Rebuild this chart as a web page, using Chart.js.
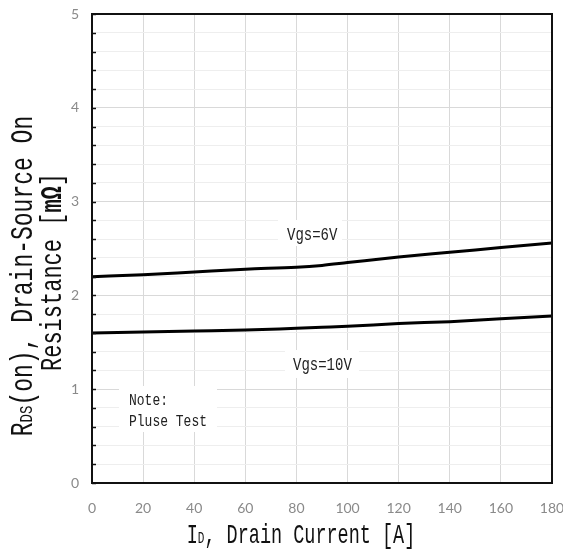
<!DOCTYPE html>
<html>
<head>
<meta charset="utf-8">
<script src="https://cdn.jsdelivr.net/npm/chart.js@4"></script>
<style>
  html, body { margin: 0; padding: 0; background: #fff; }
  #wrap { width: 563px; height: 552px; }
</style>
</head>
<body>
<div id="wrap"><canvas id="rdsChart"></canvas></div>
<script>
  // values
  const currentA = [0, 20, 40, 60, 80, 90, 100, 120, 140, 160, 180];
  const rdsVgs6 = [2.20, 2.22, 2.25, 2.28, 2.30, 2.32, 2.35, 2.41, 2.46, 2.51, 2.56];
  const rdsVgs10 = [1.60, 1.61, 1.62, 1.63, 1.65, 1.66, 1.67, 1.70, 1.72, 1.75, 1.78];
  const seriesNames = ["Vgs=6V", "Vgs=10V"];
  const xTicks = [0, 20, 40, 60, 80, 100, 120, 140, 160, 180];
  const yTicks = [0, 1, 2, 3, 4, 5];

  const MONO = "'Liberation Mono', monospace";

  // draw a row of text pieces (for the small subscript letters)
  function drawRuns(ctx, runs, cx, cy, stretch) {
    let total = 0;
    runs.forEach(r => {
      ctx.font = (r.bold ? "bold " : "") + r.size + "px " + MONO;
      r.w = ctx.measureText(r.text).width;
      total += r.w;
    });
    ctx.save();
    ctx.translate(cx, cy);
    ctx.scale(1, stretch);
    ctx.textBaseline = "alphabetic";
    ctx.textAlign = "left";
    let x = -total / 2;
    runs.forEach(r => {
      ctx.font = (r.bold ? "bold " : "") + r.size + "px " + MONO;
      ctx.fillText(r.text, x, 0);
      x += r.w;
    });
    ctx.restore();
  }

  function stretchedText(ctx, text, x, y, size, stretch) {
    ctx.save();
    ctx.font = size + "px " + MONO;
    ctx.translate(x, y);
    ctx.scale(1, stretch);
    ctx.fillText(text, 0, 0);
    ctx.restore();
  }

  const framePlugin = {
    id: "frame",
    beforeDatasetsDraw(chart) {
      const { ctx } = chart;
      ctx.save();
      // white boxes behind the notes
      ctx.fillStyle = "#fff";
      ctx.fillRect(278, 220, 64, 26);
      ctx.fillRect(285, 350, 74, 28);
      ctx.fillRect(119, 386, 98, 46);
      ctx.fillStyle = "#222";
      stretchedText(ctx, seriesNames[0], 287, 240, 14, 1.35);
      stretchedText(ctx, seriesNames[1], 293, 370, 14, 1.35);
      stretchedText(ctx, "Note:", 129, 405, 13, 1.3);
      stretchedText(ctx, "Pluse Test", 129, 426, 13, 1.3);
      ctx.restore();
    },
    afterDraw(chart) {
      const { ctx, chartArea: a, scales } = chart;
      ctx.save();
      // inner tick marks on the left axis
      ctx.strokeStyle = "#111";
      ctx.lineWidth = 1.5;
      for (let v = 0; v <= 5.001; v += 0.2) {
        const y = Math.round(scales.y.getPixelForValue(v)) + 0.5;
        ctx.beginPath();
        ctx.moveTo(a.left, y);
        ctx.lineTo(a.left + 4, y);
        ctx.stroke();
      }
      // plot frame
      ctx.strokeStyle = "#111";
      ctx.lineWidth = 2;
      ctx.strokeRect(a.left, a.top, a.right - a.left, a.bottom - a.top);

      // axis titles
      ctx.fillStyle = "#111";
      drawRuns(ctx, [
        { text: "I", size: 18.5 },
        { text: "D", size: 11 },
        { text: ", Drain Current [A]", size: 18.5 }
      ], 301, 543, 1.45);

      ctx.save();
      ctx.translate(32, 276);
      ctx.rotate(-Math.PI / 2);
      drawRuns(ctx, [
        { text: "R", size: 23 },
        { text: "DS", size: 14 },
        { text: "(on), Drain-Source On", size: 23 }
      ], 0, 0, 1.35);
      ctx.restore();

      ctx.save();
      ctx.translate(61, 272);
      ctx.rotate(-Math.PI / 2);
      drawRuns(ctx, [
        { text: "Resistance [", size: 22 },
        { text: "mΩ", size: 22, bold: true },
        { text: "]", size: 22 }
      ], 0, 0, 1.35);
      ctx.restore();
      ctx.restore();
    }
  };

  document.addEventListener("DOMContentLoaded", () => {
    const ctx = document.getElementById("rdsChart");

    new Chart(ctx, {
      type: "line",
      data: {
        labels: currentA,
        datasets: [
          {
            label: seriesNames[0],
            data: currentA.map((x, i) => ({ x: x, y: rdsVgs6[i] })),
            borderColor: "#000",
            borderWidth: 3,
            pointRadius: 0,
            cubicInterpolationMode: "monotone"
          },
          {
            label: seriesNames[1],
            data: currentA.map((x, i) => ({ x: x, y: rdsVgs10[i] })),
            borderColor: "#000",
            borderWidth: 3,
            pointRadius: 0,
            cubicInterpolationMode: "monotone"
          }
        ]
      },
      options: {
        responsive: true,
        maintainAspectRatio: false,
        animation: false,
        layout: { padding: { top: 14, right: 11, left: 0, bottom: 0 } },
        plugins: {
          legend: { display: false },
          title: { display: false },
          tooltip: { enabled: false }
        },
        scales: {
          x: {
            type: "linear",
            min: 0,
            max: 180,
            afterFit: s => {
              s.height = 69;
              s.paddingLeft = 0;
              s.paddingRight = 0;
            },
            afterBuildTicks: s => { s.ticks = xTicks.map(v => ({ value: v })); },
            grid: { color: "#d9d9d9", lineWidth: 1, drawTicks: false },
            border: { display: false },
            ticks: {
              autoSkip: false,
              maxRotation: 0,
              padding: 17,
              color: "#8a8a8a",
              font: { family: "Lato", size: 14 }
            }
          },
          y: {
            min: 0,
            max: 5,
            afterFit: s => {
              s.width = 92;
              s.paddingTop = 0;
              s.paddingBottom = 0;
            },
            afterBuildTicks: s => {
              const t = [];
              for (let i = 0; i <= 25; i++) t.push({ value: i / 5 });
              s.ticks = t;
            },
            grid: {
              drawTicks: false,
              color: c => (yTicks.includes(Math.round(c.tick.value * 1000) / 1000) ? "#d9d9d9" : "#eeeeee"),
              lineWidth: 1
            },
            border: { display: false },
            ticks: {
              autoSkip: false,
              padding: 13,
              color: "#8a8a8a",
              font: { family: "Lato", size: 14 },
              callback: v => (yTicks.includes(Math.round(v * 1000) / 1000) ? String(Math.round(v)) : "")
            }
          }
        }
      },
      plugins: [framePlugin]
    });
  });
</script>
</body>
</html>
